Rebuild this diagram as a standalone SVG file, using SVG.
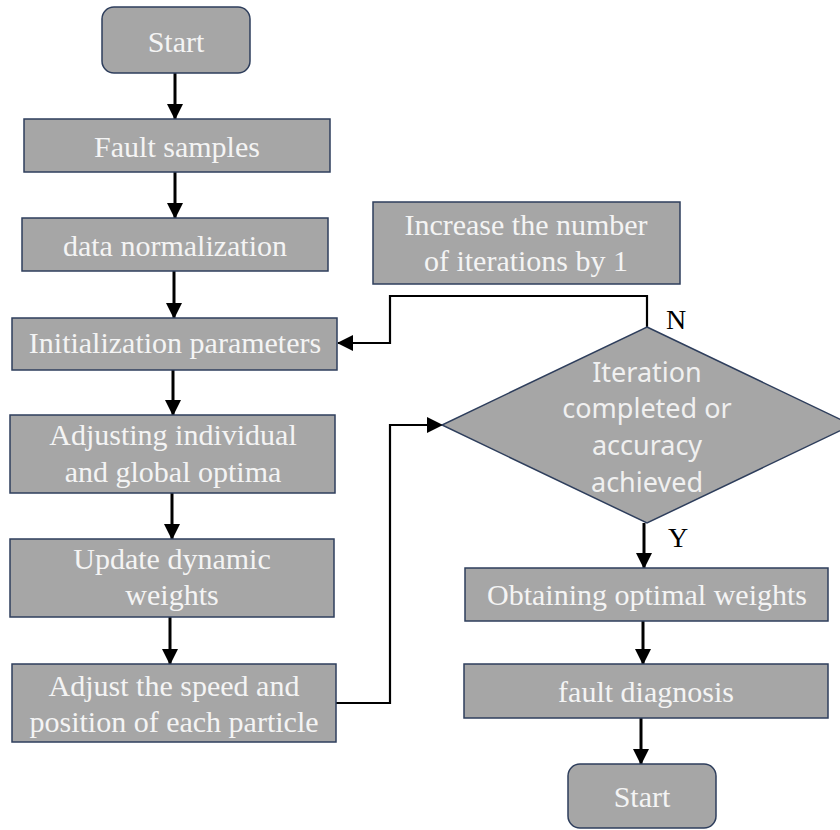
<svg xmlns="http://www.w3.org/2000/svg" width="840" height="830" viewBox="0 0 840 830">
<style>
.box{fill:#a6a6a6;stroke:#2e3e5c;stroke-width:1.5}
.t{font-family:"Liberation Serif","Times New Roman",serif;font-size:30px;fill:#f4f4f4;text-anchor:middle}
.ts{font-family:"Noto Sans","DejaVu Sans",sans-serif;font-size:27px;fill:#f0f0f0;text-anchor:middle}
.lbl{font-family:"Liberation Serif","Times New Roman",serif;font-size:28px;fill:#000}
.c{fill:none;stroke:#000;stroke-width:3}
.c2{fill:none;stroke:#000;stroke-width:2.2}
</style>
<defs>
<marker id="ah" markerUnits="userSpaceOnUse" markerWidth="16" markerHeight="16" refX="15" refY="8" orient="auto">
<path d="M0,0 L16,8 L0,16 Z" fill="#000"/>
</marker>
</defs>
<rect width="840" height="830" fill="#fff"/>
<g id="connectors">
<line class="c" x1="175" y1="73" x2="175" y2="119" marker-end="url(#ah)"/>
<line class="c" x1="175" y1="172" x2="175" y2="218" marker-end="url(#ah)"/>
<line class="c" x1="174" y1="271" x2="174" y2="318" marker-end="url(#ah)"/>
<line class="c" x1="173" y1="370" x2="173" y2="415" marker-end="url(#ah)"/>
<line class="c" x1="172" y1="493" x2="172" y2="539" marker-end="url(#ah)"/>
<line class="c" x1="170" y1="617" x2="170" y2="664" marker-end="url(#ah)"/>
<polyline class="c2" points="336,703 390,703 390,425 442,425" marker-end="url(#ah)"/>
<polyline class="c2" points="647,327 647,296 390,296 390,343 338,343" marker-end="url(#ah)"/>
<line class="c" x1="644" y1="523" x2="644" y2="568" marker-end="url(#ah)"/>
<line class="c" x1="643" y1="621" x2="643" y2="664" marker-end="url(#ah)"/>
<line class="c" x1="641" y1="718" x2="641" y2="764" marker-end="url(#ah)"/>
<text class="lbl" x="666" y="329">N</text>
<text class="lbl" x="668" y="547">Y</text>
</g>
<g id="start">
<rect class="box" x="102" y="7" width="148" height="66" rx="12"/>
<text class="t" x="176" y="52">Start</text>
</g>
<g id="fault-samples">
<rect class="box" x="24" y="119" width="306" height="53"/>
<text class="t" x="177" y="157">Fault samples</text>
</g>
<g id="data-normalization">
<rect class="box" x="22" y="218" width="306" height="53"/>
<text class="t" x="175" y="256">data normalization</text>
</g>
<g id="init-params">
<rect class="box" x="12" y="318" width="325" height="52"/>
<text class="t" x="175" y="353">Initialization parameters</text>
</g>
<g id="adjusting-optima">
<rect class="box" x="10" y="415" width="325" height="78"/>
<text class="t" x="173" y="445">Adjusting individual</text>
<text class="t" x="173" y="482">and global optima</text>
</g>
<g id="update-weights">
<rect class="box" x="10" y="539" width="324" height="78"/>
<text class="t" x="172" y="569">Update dynamic</text>
<text class="t" x="172" y="605">weights</text>
</g>
<g id="adjust-speed">
<rect class="box" x="12" y="664" width="324" height="78"/>
<text class="t" x="174" y="696">Adjust the speed and</text>
<text class="t" x="174" y="732">position of each particle</text>
</g>
<g id="increase-iterations">
<rect class="box" x="373" y="202" width="307" height="82"/>
<text class="t" x="526" y="235">Increase the number</text>
<text class="t" x="526" y="271">of iterations by 1</text>
</g>
<g id="decision">
<polygon class="box" points="647,327 852,425 647,523 442,425"/>
<text class="ts" x="647" y="382">Iteration</text>
<text class="ts" x="647" y="418">completed or</text>
<text class="ts" x="647" y="455">accuracy</text>
<text class="ts" x="647" y="492">achieved</text>
</g>
<g id="optimal-weights">
<rect class="box" x="465" y="568" width="363" height="53"/>
<text class="t" x="647" y="605">Obtaining optimal weights</text>
</g>
<g id="fault-diagnosis">
<rect class="box" x="464" y="664" width="364" height="54"/>
<text class="t" x="646" y="702">fault diagnosis</text>
</g>
<g id="end">
<rect class="box" x="568" y="764" width="148" height="64" rx="12"/>
<text class="t" x="642" y="807">Start</text>
</g>
</svg>
